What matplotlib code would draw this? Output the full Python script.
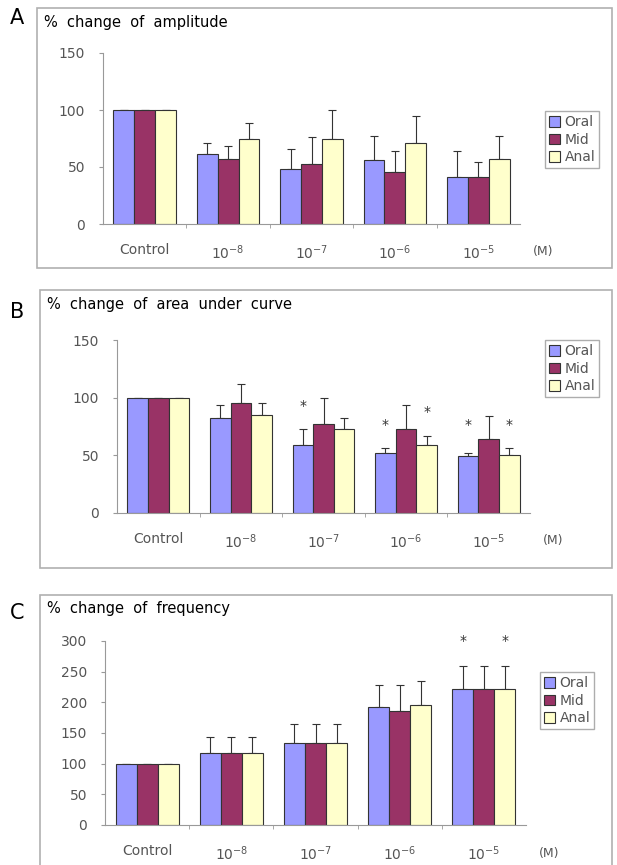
import numpy as np
import matplotlib.pyplot as plt
from matplotlib.patches import Rectangle

groups = ['Control', '10$^{-8}$', '10$^{-7}$', '10$^{-6}$', '10$^{-5}$']
series = ['Oral', 'Mid', 'Anal']
colors = ['#9999ff', '#993366', '#ffffcc']

# A: amplitude
amp_oral = [100, 61, 48, 56, 41]
amp_mid = [100, 57, 53, 46, 41]
amp_anal = [100, 75, 75, 71, 57]
amp_oral_err = [0, 10, 18, 21, 23]
amp_mid_err = [0, 11, 23, 18, 13]
amp_anal_err = [0, 14, 25, 24, 20]

# B: area under curve
auc_oral = [100, 82, 59, 52, 49]
auc_mid = [100, 95, 77, 73, 64]
auc_anal = [100, 85, 73, 59, 50]
auc_oral_err = [0, 12, 14, 4, 3]
auc_mid_err = [0, 17, 23, 21, 20]
auc_anal_err = [0, 10, 9, 8, 6]
# stars: (group index, series index, y value)
auc_stars = [(2, 0, 93), (3, 0, 76), (3, 2, 88), (4, 0, 76), (4, 2, 76)]

# C: frequency
freq_oral = [100, 117, 134, 192, 222]
freq_mid = [100, 117, 134, 186, 222]
freq_anal = [100, 117, 134, 195, 222]
freq_oral_err = [0, 26, 30, 37, 37]
freq_mid_err = [0, 26, 30, 43, 37]
freq_anal_err = [0, 26, 30, 40, 37]
freq_stars = [(4, 0, 300), (4, 2, 300)]

W, H = 617, 865
fig = plt.figure(figsize=(W / 100, H / 100), dpi=100)


def fx(px):
    return px / W


def fy(py):
    return 1 - py / H


panels = [
    dict(letter='A', title='%  change  of  amplitude',
         vals=[amp_oral, amp_mid, amp_anal],
         errs=[amp_oral_err, amp_mid_err, amp_anal_err], stars=[],
         yticks=[0, 50, 100, 150], ymax=150,
         frame=(37, 8, 612, 268), ax=(103, 53, 520, 224),
         leg=(545, 111), letter_y=18),
    dict(letter='B', title='%  change  of  area  under  curve',
         vals=[auc_oral, auc_mid, auc_anal],
         errs=[auc_oral_err, auc_mid_err, auc_anal_err], stars=auc_stars,
         yticks=[0, 50, 100, 150], ymax=150,
         frame=(40, 290, 612, 568), ax=(117, 340, 530, 513),
         leg=(545, 340), letter_y=312),
    dict(letter='C', title='%  change  of  frequency',
         vals=[freq_oral, freq_mid, freq_anal],
         errs=[freq_oral_err, freq_mid_err, freq_anal_err], stars=freq_stars,
         yticks=[0, 50, 100, 150, 200, 250, 300], ymax=300,
         frame=(40, 595, 612, 868), ax=(105, 641, 526, 825),
         leg=(540, 672), letter_y=613),
]

x = np.arange(len(groups))
bw = 0.25

for p in panels:
    l, t, r, b = p['frame']
    fig.patches.append(Rectangle((fx(l), fy(b)), fx(r - l), (b - t) / H,
                                 transform=fig.transFigure, fill=False,
                                 edgecolor='#b0b0b0', lw=1.2))
    fig.text(fx(10), fy(p['letter_y']), p['letter'], fontsize=15,
             va='center', ha='left')
    fig.text(fx(l + 7), fy(t + 14), p['title'], fontsize=10.5,
             va='center', ha='left')

    al, at, ar, ab = p['ax']
    ax = fig.add_axes([fx(al), fy(ab), fx(ar - al), (ab - at) / H])
    for i in range(3):
        pos = x + (i - 1) * bw
        ax.bar(pos, p['vals'][i], bw, color=colors[i], edgecolor='#333333',
               lw=0.8, label=series[i], zorder=2)
        ax.errorbar(pos, p['vals'][i],
                    yerr=[np.zeros(len(groups)), p['errs'][i]],
                    fmt='none', ecolor='#333333', elinewidth=0.8,
                    capsize=3, capthick=0.8, zorder=1)
    for g, s, yv in p['stars']:
        ax.text(x[g] + (s - 1) * bw, yv, '*', ha='center', va='center',
                fontsize=10, color='#333333')

    ax.set_xlim(-0.5, 4.5)
    ax.set_ylim(0, p['ymax'])
    ax.set_yticks(p['yticks'])
    ax.set_xticks(x)
    ax.set_xticklabels(groups)
    ax.set_xticks(np.arange(0.5, 4.5, 1), minor=True)
    ax.tick_params(axis='x', which='major', length=0, pad=14,
                   labelsize=10, labelcolor='#555555')
    ax.tick_params(axis='x', which='minor', length=3, color='#999999')
    ax.tick_params(axis='y', length=3, color='#999999', labelsize=10,
                   labelcolor='#555555', pad=10)
    for sp in ['top', 'right']:
        ax.spines[sp].set_visible(False)
    for sp in ['left', 'bottom']:
        ax.spines[sp].set_color('#999999')
    ax.text(1.03, -0.12, '(M)', transform=ax.transAxes, fontsize=9,
            color='#555555', va='top', ha='left')
    ax.patch.set_alpha(0)

    lx, ly = p['leg']
    leg = fig.legend(*ax.get_legend_handles_labels(), loc='upper left',
                     bbox_to_anchor=(fx(lx), fy(ly)), fontsize=10,
                     frameon=True, fancybox=False, handlelength=0.8,
                     handleheight=0.8, handletextpad=0.3, borderpad=0.3,
                     labelspacing=0.25, borderaxespad=0)
    leg.get_frame().set_edgecolor('#999999')
    for txt in leg.get_texts():
        txt.set_color('#555555')

fig.savefig('out.png', dpi=100)
